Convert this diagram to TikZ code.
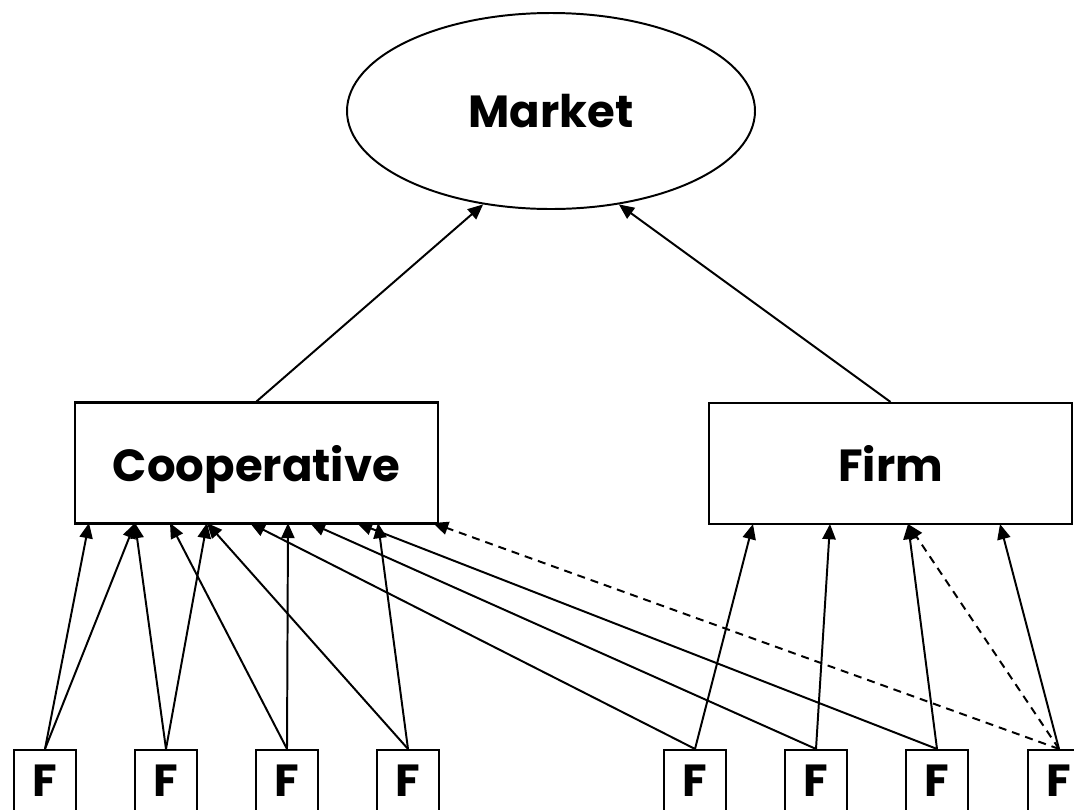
\documentclass[tikz,border=0pt]{standalone}
\usepackage{fontspec}
\setmainfont{Poppins}
\usepackage{tikz}
\usetikzlibrary{calc,arrows.meta,shapes.geometric}

\begin{document}
\begin{tikzpicture}[scale=1,
		lbl/.style={font=\fontsize{32}{34}\selectfont\bfseries, text depth=0pt},
		box/.style={draw, line width=1.5pt, rectangle, inner sep=0pt, lbl},
		tip/.style={-{Triangle[length=0.38cm,width=0.33cm]}, line width=1.4pt},
		dtip/.style={tip, dash pattern=on 0.2cm off 0.15cm}]
			\useasboundingbox (0,0) rectangle (26.85,-20.225);
			\def\fy{-19.5125};
			\node[draw, line width=1.4pt, ellipse, inner sep=0pt, minimum width=10.2cm, minimum height=4.9cm, lbl] (market) at (13.775,-2.775) {Market};
			\node[box, minimum width=9.075cm, minimum height=3.025cm] (coop) at (6.4125,-11.575) {Cooperative};
			\node[box, minimum width=9.075cm, minimum height=3.025cm] (firm) at (22.2625,-11.5875) {Firm};
			\foreach \n/\x in {1/1.125, 2/4.15, 3/7.175, 4/10.2, 5/17.375, 6/20.4, 7/23.425, 8/26.475}
				\node[box, minimum width=1.55cm, minimum height=1.525cm] (f\n) at (\x,\fy) {F};
			\foreach \n/\x in {1/2.225, 2/3.375, 3/4.25, 4/5.175, 5/6.25, 6/7.2, 7/7.75, 8/8.925, 9/9.45, 10/10.825}
				\coordinate (c\n) at (\x,-13.075);
			\foreach \n/\x in {1/18.825, 2/20.75, 3/22.7, 4/25.0}
				\coordinate (d\n) at (\x,-13.1);
			\draw[tip] (coop.north) -- (market.234);
			\draw[tip] (firm.north) -- (market.306);
			\foreach \a/\b in {1/1, 1/2, 2/2, 2/4, 3/3, 3/6, 4/4, 4/9, 5/5, 6/7, 7/8}
				\draw[tip] (f\a.north) -- (c\b);
			\draw[dtip] (f8.north) -- (c10);
			\foreach \a/\b in {5/1, 6/2, 7/3, 8/4}
				\draw[tip] (f\a.north) -- (d\b);
			\draw[dtip] (f8.north) -- (d3);
			\end{tikzpicture}
\end{document}
